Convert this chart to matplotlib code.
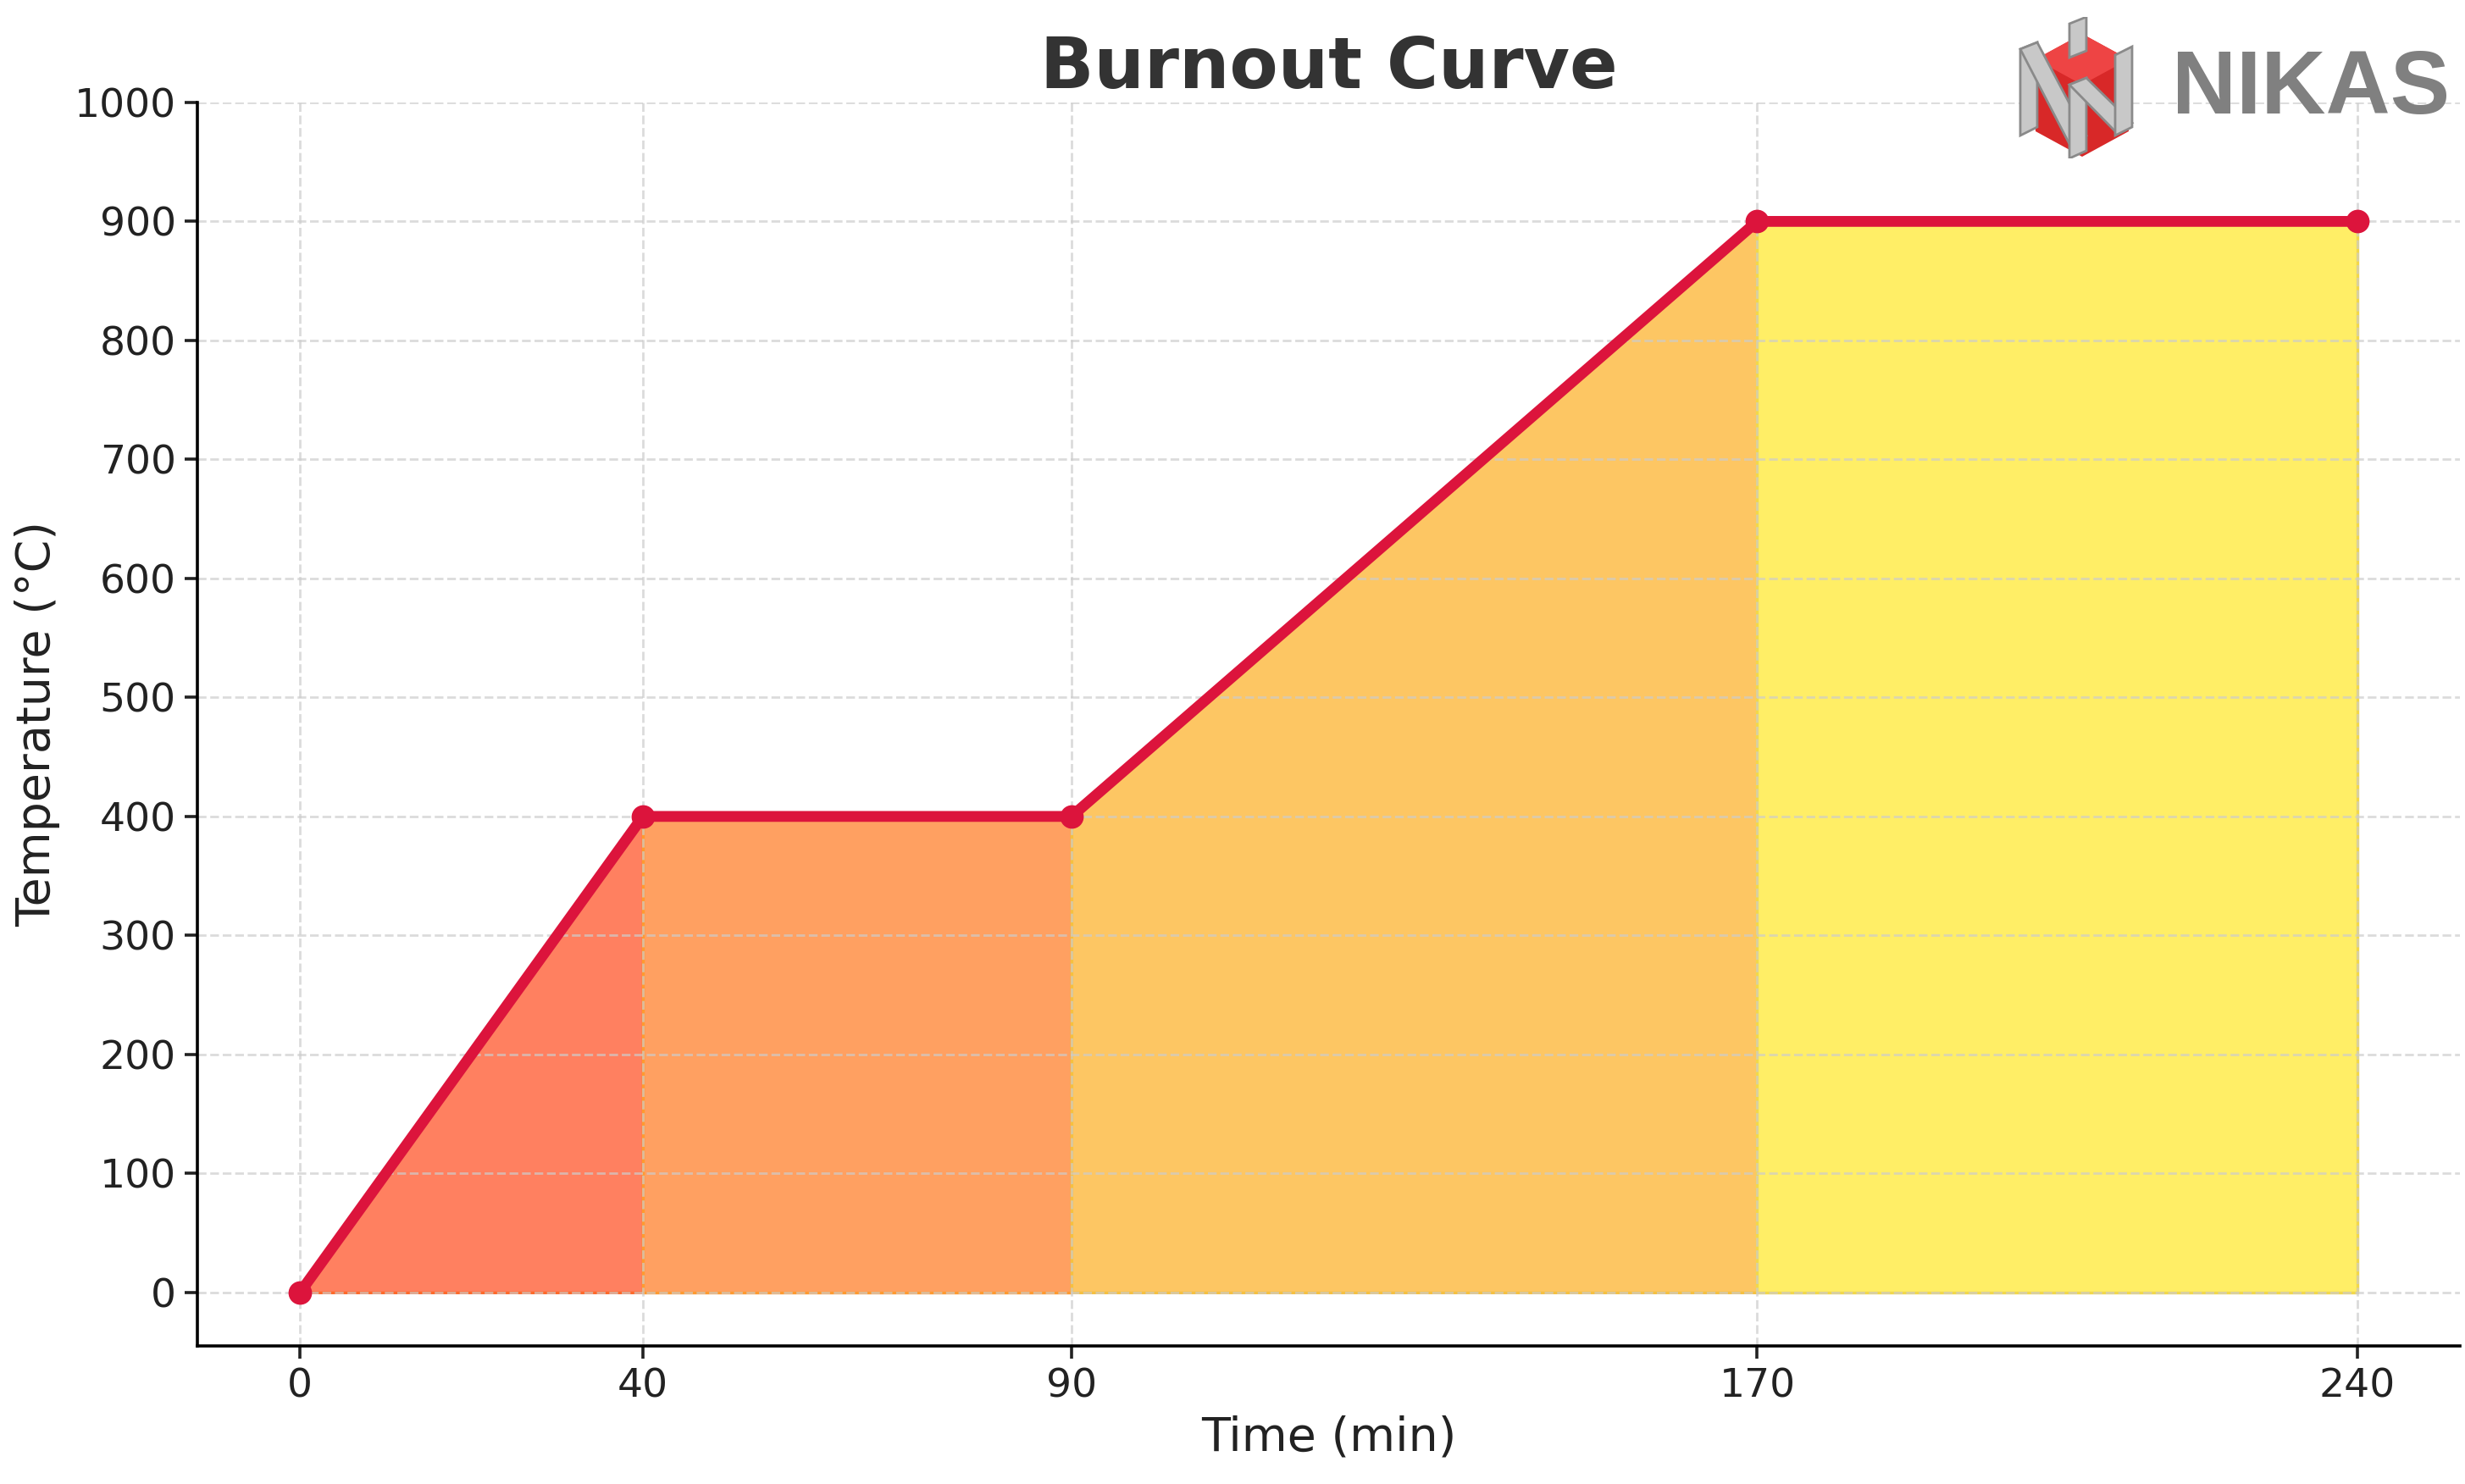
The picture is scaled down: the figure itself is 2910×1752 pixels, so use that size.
import matplotlib.pyplot as plt
from matplotlib.patches import Polygon

# burnout schedule
time_min = [0, 40, 90, 170, 240]
temp_c = [0, 400, 400, 900, 900]
seg_colors = ['#FF8060', '#FFA061', '#FDC663', '#FFEE66']
seg_edges = ['#FF6A2A', '#FF9A30', '#F5C040', '#F2D84A']
y_ticks = list(range(0, 1001, 100))

fig = plt.figure(figsize=(14.55, 8.76), dpi=200)
ax = fig.add_axes([0.080, 0.093, 0.918, 0.838])

# coloured stages under the curve
for i in range(len(time_min) - 1):
    ax.fill_between(time_min[i:i + 2], temp_c[i:i + 2], 0,
                    facecolor=seg_colors[i], edgecolor=seg_edges[i], linewidth=1.2)

ax.plot(time_min, temp_c, color='#DC143C', linewidth=4.6, marker='o', markersize=9, zorder=3)

ax.set_xticks(time_min)
ax.set_yticks(y_ticks)
ax.set_xlim(-12, 252)
ax.set_ylim(-45, 1000)
ax.grid(True, linestyle='--', color='#CCCCCC', alpha=0.7, linewidth=1)
ax.spines['top'].set_visible(False)
ax.spines['right'].set_visible(False)
for s in ['left', 'bottom']:
    ax.spines[s].set_linewidth(1.3)
ax.tick_params(labelsize=17, length=5.5, width=1.3, colors='#222222')
ax.set_xlabel('Time (min)', fontsize=20, color='#222222', labelpad=4)
ax.set_ylabel('Temperature (°C)', fontsize=20, color='#222222', labelpad=6)
ax.set_title('Burnout Curve', fontsize=30, fontweight='bold', color='#333333', pad=6)

# NIKAS logo (rough redraw)
fig.text(0.994, 0.939, 'NIKAS', fontsize=38, fontweight='bold', color='#808080',
         family='Liberation Sans', ha='right', va='center')
lax = fig.add_axes([2383 / 2910, 1 - 187 / 1752, 137 / 2910, 167 / 1752])
lax.set_xlim(0, 137)
lax.set_ylim(167, 0)
lax.axis('off')
lax.add_patch(Polygon([(20, 50), (75, 20), (130, 50), (130, 135), (75, 165), (20, 135)],
                      closed=True, facecolor='#D82828', edgecolor='none'))
lax.add_patch(Polygon([(20, 50), (75, 20), (130, 50), (75, 80)],
                      closed=True, facecolor='#EE4444', edgecolor='none'))
grey = '#C8C8C8'
dark = '#8A8A8A'
shapes = [
    [(2, 38), (22, 30), (22, 130), (2, 140)],          # left bar
    [(2, 38), (22, 30), (80, 140), (60, 150)],         # left diagonal
    [(60, 80), (80, 72), (80, 158), (60, 167)],        # front bar
    [(60, 80), (80, 72), (134, 125), (114, 135)],      # right diagonal
    [(114, 45), (134, 35), (134, 130), (114, 140)],    # right bar
    [(60, 8), (80, 0), (80, 40), (60, 48)],            # top post
]
for pts in shapes:
    lax.add_patch(Polygon(pts, closed=True, facecolor=grey, edgecolor=dark, linewidth=1))

fig.savefig('out.png', dpi=200)
